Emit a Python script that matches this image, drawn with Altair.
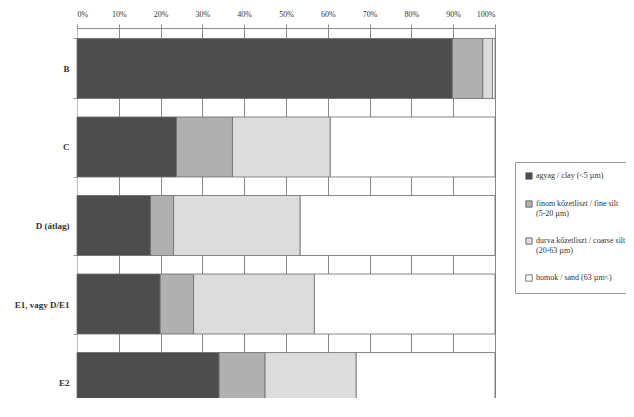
import altair as alt
import pandas as pd

samples = ["B", "C", "D (átlag)", "E1, vagy D/E1", "E2"]
fractions = [
    "agyag / clay (<5 µm)",
    "finom kőzetliszt / fine silt\n(5-20 µm)",
    "durva kőzetliszt / coarse silt\n(20-63 µm)",
    "homok / sand (63 µm<)",
]
clay = [89.8, 23.8, 17.6, 19.9, 34.0]
fine_silt = [7.3, 13.4, 5.5, 8.0, 11.0]
coarse_silt = [2.3, 23.4, 30.3, 28.9, 21.8]
sand = [0.6, 39.4, 46.6, 43.2, 33.2]
colors = ["#4d4d4d", "#b0b0b0", "#dcdcdc", "#ffffff"]
x_ticks = [0, 10, 20, 30, 40, 50, 60, 70, 80, 90, 100]

rows = []
for series_idx, (frac, vals) in enumerate(zip(fractions, [clay, fine_silt, coarse_silt, sand])):
    for s, v in zip(samples, vals):
        rows.append({"sample": s, "fraction": frac, "value": v, "order": series_idx})
df = pd.DataFrame(rows)

serif = "Liberation Serif"

chart = alt.Chart(df).mark_bar(stroke="#6a6a6a", strokeWidth=0.8).encode(
    x=alt.X(
        "value:Q",
        stack="zero",
        scale=alt.Scale(domain=[0, 100], nice=False),
        axis=alt.Axis(
            orient="top",
            values=x_ticks,
            labelExpr="datum.value + '%'",
            title=None,
            grid=True,
            gridColor="#8a8a8a",
            gridWidth=1,
            domainColor="#8a8a8a",
            tickColor="#8a8a8a",
            tickSize=4,
            labelFont=serif,
            labelFontSize=8,
            labelColor="#333333",
            labelPadding=6,
        ),
    ),
    y=alt.Y(
        "sample:N",
        sort=samples,
        scale=alt.Scale(range=[0, 395], paddingInner=0.236, paddingOuter=0.133),
        axis=alt.Axis(
            title=None,
            tickBand="extent",
            tickSize=4,
            tickColor="#9a9a9a",
            domainColor="#bbbbbb",
            labelFont=serif,
            labelFontSize=9,
            labelFontWeight="bold",
            labelColor="#333333",
            labelPadding=4,
        ),
    ),
    color=alt.Color(
        "fraction:N",
        sort=fractions,
        scale=alt.Scale(domain=fractions, range=colors),
        legend=alt.Legend(
            title=None,
            orient="none",
            legendX=438,
            legendY=134,
            symbolType="square",
            symbolSize=40,
            symbolStrokeColor="#555555",
            symbolStrokeWidth=0.8,
            labelFont=serif,
            labelFontSize=8,
            labelColor="#333333",
            labelLimit=200,
            labelExpr="split(datum.label, '\\n')",
            rowPadding=18,
            strokeColor="#999999",
            padding=10,
            labelOffset=3,
        ),
    ),
    order=alt.Order("order:Q"),
).properties(
    width=418,
    height=370,
    autosize=alt.AutoSizeParams(type="none"),
    padding={"left": 69, "top": 20, "right": 131, "bottom": 0},
).configure_view(stroke=None)

chart.save("out.html", embed_options={"renderer": "svg", "actions": False})
